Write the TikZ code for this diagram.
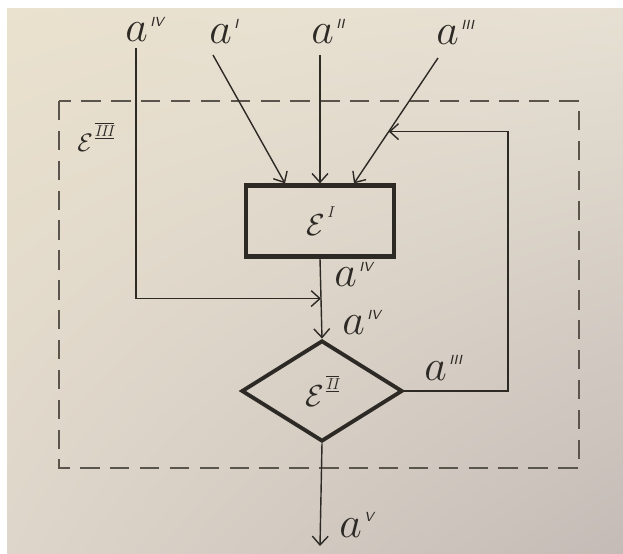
\documentclass[tikz,border=0pt]{standalone}
\usepackage{amsmath,amssymb}
\usepackage{xcolor}
\usepackage{tikz}
\usetikzlibrary{arrows.meta,positioning,calc,shapes.geometric,shadings}

\definecolor{paperUL}{RGB}{234,225,206}
\definecolor{paperUR}{RGB}{231,225,212}
\definecolor{paperLL}{RGB}{222,214,202}
\definecolor{paperLR}{RGB}{196,187,182}
\definecolor{ink}{RGB}{45,42,38}
\definecolor{dashink}{RGB}{90,85,76}

\newcommand{\asup}[1]{\kern1.5pt\raisebox{9pt}{\fontsize{7.5}{8}\selectfont\sffamily\itshape #1}}
\newcommand{\esup}[2][10pt]{\kern1pt\raisebox{#1}{\fontsize{9}{9}\selectfont\itshape #2}}
\newcommand{\rbar}[1]{$\overline{\underline{\text{#1}}}$}

\tikzset{
  lbl/.style={inner sep=0pt, text=ink, font=\fontsize{25}{28}\selectfont, anchor=base west},
  elbl/.style={text=ink, font=\fontsize{18}{20}\selectfont},
  wire/.style={draw=ink, line width=0.8pt},
  blockbox/.style={draw=ink, line width=2.4pt, rectangle, minimum width=2.96cm, minimum height=1.42cm, inner sep=0pt},
  testbox/.style={draw=ink, line width=2.2pt, diamond, minimum width=3.22cm, minimum height=2.02cm, inner sep=0pt},
  frame/.style={draw=dashink, line width=0.9pt, dash pattern=on 11pt off 6pt},
}

\begin{document}
\begin{tikzpicture}[x=0.02cm, y=-0.02cm, >={Straight Barb[length=5pt,width=9pt]}]
\shade[upper left=paperUL, upper right=paperUR, lower left=paperLL, lower right=paperLR] (0,0) rectangle (623,554);
\fill[white] (0,0) rectangle (623,8);
\fill[white] (0,0) rectangle (7,554);
\useasboundingbox (0,0) rectangle (623,554);

% system boundary
\draw[frame] (59,101) rectangle (579,468);
\node[elbl, anchor=base west, inner sep=0pt, font=\fontsize{15}{17}\selectfont] (sysname) at (77,152) {$\mathcal{E}$\esup[9pt]{\rbar{III}}};

% blocks
\node[blockbox, elbl] (proc) at (320,221) {$\mathcal{E}$\esup{I}};
\node[testbox, elbl] (check) at (322,391) {$\mathcal{E}$\esup{\rbar{II}}};

% inputs
\node[lbl] (xIV) at (125,42) {$a$\asup{IV}};
\node[lbl] (x1) at (209,44) {$a$\asup{I}};
\node[lbl] (x2) at (311,44) {$a$\asup{II}};
\node[lbl] (x3) at (436,45) {$a$\asup{III}};
\coordinate (inIV) at (136,48);
\coordinate (in1) at (213,55);
\coordinate (in2) at (320,55);
\coordinate (in3) at (438,58);

\draw[wire,->] (in1) -- ($(proc.north)+(-35,0)$);
\draw[wire,->] (in2) -- (proc.north);
\draw[wire,->] (in3) -- coordinate[pos=0.587] (merge) ($(proc.north)+(34,0)$);

% between the blocks
\draw[wire,->] (proc.south) -- coordinate (join) (check.north);
\draw[wire,->] (inIV) |- (join);
\node[lbl] (yIV) at (334,287) {$a$\asup{IV}};
\node[lbl] (zIV) at (342,335) {$a$\asup{IV}};

% feedback
\coordinate (loop) at (508,132);
\draw[wire,->] (check.east) -| (loop |- merge) -- (merge);
\node[lbl] (y3) at (424,380) {$a$\asup{III}};

% output
\coordinate (out) at (320,546);
\draw[wire,->] (check.south) -- (out);
\node[lbl] (yV) at (339,537) {$a$\asup{V}};
\end{tikzpicture}
\end{document}
